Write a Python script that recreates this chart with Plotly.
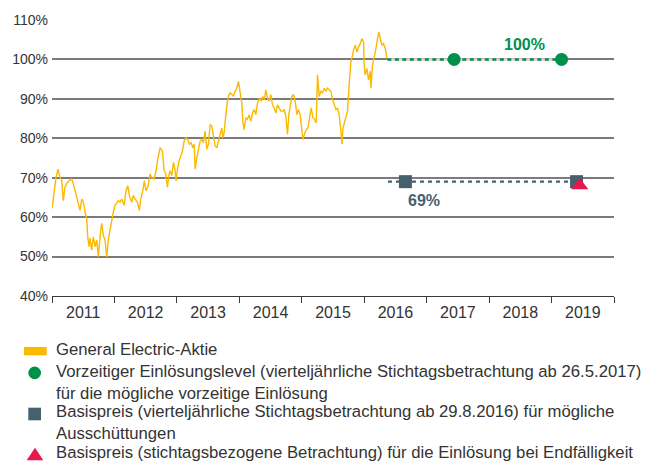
import plotly.graph_objects as go

# ---------------- data ----------------
# General Electric share price, in % of the strike-date level (decimal years)
ge_t = [2011.000, 2011.032, 2011.064, 2011.096, 2011.128, 2011.155, 2011.181, 2011.208, 2011.245, 2011.288,
        2011.316, 2011.341, 2011.369, 2011.396, 2011.421, 2011.449, 2011.476, 2011.502, 2011.529, 2011.556,
        2011.572, 2011.593, 2011.609, 2011.636, 2011.662, 2011.689, 2011.716, 2011.742, 2011.769, 2011.796,
        2011.822, 2011.849, 2011.877, 2011.902, 2011.929, 2011.957, 2011.982, 2012.010, 2012.037, 2012.063,
        2012.090, 2012.117, 2012.154, 2012.186, 2012.213, 2012.239, 2012.277, 2012.303, 2012.330, 2012.367,
        2012.399, 2012.421, 2012.454, 2012.479, 2012.506, 2012.534, 2012.571, 2012.598, 2012.635, 2012.667,
        2012.694, 2012.731, 2012.768, 2012.795, 2012.822, 2012.848, 2012.875, 2012.891, 2012.918, 2012.944,
        2012.971, 2012.987, 2013.008, 2013.035, 2013.063, 2013.088, 2013.115, 2013.147, 2013.175, 2013.200,
        2013.228, 2013.255, 2013.276, 2013.292, 2013.319, 2013.345, 2013.372, 2013.399, 2013.425, 2013.452,
        2013.479, 2013.505, 2013.532, 2013.559, 2013.585, 2013.612, 2013.639, 2013.665, 2013.692, 2013.720,
        2013.736, 2013.757, 2013.773, 2013.789, 2013.809, 2013.825, 2013.853, 2013.880, 2013.906, 2013.933,
        2013.960, 2013.986, 2014.013, 2014.040, 2014.056, 2014.077, 2014.104, 2014.130, 2014.157, 2014.184,
        2014.210, 2014.237, 2014.264, 2014.290, 2014.322, 2014.349, 2014.377, 2014.402, 2014.425, 2014.450,
        2014.478, 2014.505, 2014.531, 2014.558, 2014.585, 2014.611, 2014.638, 2014.665, 2014.697, 2014.718,
        2014.745, 2014.771, 2014.793, 2014.814, 2014.841, 2014.867, 2014.894, 2014.922, 2014.947, 2014.974,
        2015.002, 2015.018, 2015.043, 2015.071, 2015.098, 2015.124, 2015.151, 2015.178, 2015.204, 2015.231,
        2015.252, 2015.279, 2015.306, 2015.332, 2015.359, 2015.386, 2015.412, 2015.439, 2015.466, 2015.492,
        2015.519, 2015.547, 2015.572, 2015.599, 2015.627, 2015.643, 2015.659, 2015.684, 2015.712, 2015.733,
        2015.760, 2015.787, 2015.813, 2015.829, 2015.856, 2015.883, 2015.909, 2015.936, 2015.963, 2015.989,
        2016.000, 2016.016, 2016.043, 2016.069, 2016.096, 2016.107, 2016.133, 2016.160, 2016.188, 2016.213,
        2016.236, 2016.256, 2016.284, 2016.309, 2016.337, 2016.364]
ge_v = [62.2, 66.7, 70.1, 72.2, 70.0, 69.5, 64.2, 67.6, 68.8, 69.4,
        69.7, 68.5, 66.7, 65.0, 63.0, 61.7, 64.6, 63.8, 61.3, 59.6,
        55.0, 52.5, 54.7, 51.6, 55.0, 52.5, 54.2, 50.0, 55.0, 58.4,
        55.3, 54.2, 49.9, 54.2, 56.7, 59.6, 61.3, 63.0, 63.8, 64.2,
        63.8, 64.6, 63.0, 66.7, 68.0, 65.5, 63.8, 65.5, 64.6, 63.8,
        61.7, 64.6, 66.7, 69.2, 66.7, 67.6, 70.9, 70.0, 69.7, 71.8,
        74.7, 77.6, 76.8, 71.8, 71.0, 67.6, 70.9, 71.8, 70.5, 73.9,
        71.8, 69.2, 72.0, 74.3, 75.5, 76.7, 79.3, 80.1, 79.7, 78.5,
        78.9, 77.6, 78.5, 72.2, 75.1, 76.8, 79.3, 79.7, 78.9, 81.8,
        77.2, 78.5, 83.5, 83.1, 80.1, 78.1, 77.6, 79.3, 81.4, 82.6,
        80.1, 81.4, 84.3, 86.9, 89.4, 90.7, 91.5, 91.1, 90.7, 91.9,
        92.7, 94.4, 91.9, 88.9, 84.3, 82.2, 85.2, 84.8, 86.0, 84.3,
        86.4, 87.3, 86.0, 88.9, 90.2, 89.4, 90.6, 89.8, 92.3, 90.2,
        89.4, 91.1, 88.5, 87.7, 86.4, 88.5, 87.7, 86.9, 86.9, 87.3,
        85.6, 81.0, 86.0, 88.5, 90.6, 91.1, 89.4, 86.0, 87.3, 86.0,
        81.8, 79.7, 81.0, 82.2, 82.6, 84.8, 87.7, 85.2, 84.8, 83.9,
        96.1, 90.6, 91.9, 91.5, 92.7, 91.9, 92.7, 92.3, 91.9, 89.8,
        88.5, 87.3, 87.7, 86.0, 81.8, 78.5, 82.6, 84.3, 86.0, 86.9,
        94.0, 99.4, 101.1, 102.4, 103.6, 101.9, 103.2, 104.0, 105.3, 104.4,
        98.6, 96.1, 97.7, 94.8, 97.0, 92.7, 98.6, 100.3, 102.8, 105.3,
        107.0, 105.3, 103.6, 104.0, 102.8, 100.3]

# early redemption level (quarterly observation from 26.5.2017)
early_line_t = [2016.37, 2019.16]
early_line_v = [100, 100]
early_t = [2017.44, 2019.16]
early_v = [100, 100]
early_label = "100%"

# strike (quarterly observation from 29.8.2016) for possible payouts
strike_line_t = [2016.38, 2019.40]
strike_line_v = [69, 69]
strike_t = [2016.66, 2019.40]
strike_v = [69, 69]
strike_label = "69%"

# strike at maturity
final_t = [2019.45]
final_v = [68]

year_labels = ["2011", "2012", "2013", "2014", "2015", "2016", "2017", "2018", "2019"]
year_pos = [2011.5, 2012.5, 2013.5, 2014.5, 2015.5, 2016.5, 2017.5, 2018.5, 2019.5]

legend_texts = [
    "General Electric-Aktie",
    "Vorzeitiger Einlösungslevel (vierteljährliche Stichtagsbetrachtung ab 26.5.2017)<br>"
    "für die mögliche vorzeitige Einlösung",
    "Basispreis (vierteljährliche Stichtagsbetrachtung ab 29.8.2016) für mögliche<br>"
    "Ausschüttungen",
    "Basispreis (stichtagsbezogene Betrachtung) für die Einlösung bei Endfälligkeit",
]

# ---------------- style ----------------
YELLOW = "#FBB900"
GREEN = "#00904A"
SLATE = "#46606E"
RED = "#E8174C"
TEXT = "#333333"
GRID = "#7a7a7a"
FONT = "Liberation Sans, Arial, sans-serif"

W, H = 657, 465
L, R, T, B = 52, 43, 18, 169
PW, PH = W - L - R, H - T - B


def px(x):
    return (x - L) / PW


def py(y):
    return (H - B - y) / PH


fig = go.Figure()
fig.add_trace(go.Scatter(x=ge_t, y=ge_v, mode="lines",
                         line=dict(color=YELLOW, width=1.4), hoverinfo="skip"))
fig.add_trace(go.Scatter(x=early_line_t, y=early_line_v, mode="lines",
                         line=dict(color="#e8d0d6", width=2.5), hoverinfo="skip"))
fig.add_trace(go.Scatter(x=early_line_t, y=early_line_v, mode="lines",
                         line=dict(color=GREEN, width=2.6, dash="4px,3.5px"), hoverinfo="skip"))
fig.add_trace(go.Scatter(x=early_t, y=early_v, mode="markers",
                         marker=dict(symbol="circle", size=13, color=GREEN)))
fig.add_trace(go.Scatter(x=strike_line_t, y=strike_line_v, mode="lines",
                         line=dict(color=SLATE, width=2.2, dash="4px,4px"), hoverinfo="skip"))
fig.add_trace(go.Scatter(x=strike_t, y=strike_v, mode="markers",
                         marker=dict(symbol="square", size=13, color=SLATE)))
fig.add_trace(go.Scatter(x=final_t, y=final_v, mode="markers",
                         marker=dict(symbol="triangle-up", size=15, color=RED)))

annotations = [
    dict(x=2018.56, y=103.7, xref="x", yref="y", text="<b>" + early_label + "</b>", showarrow=False,
         font=dict(family=FONT, size=16, color=GREEN), xanchor="center", yanchor="middle"),
    dict(x=2016.95, y=64.2, xref="x", yref="y", text="<b>" + strike_label + "</b>", showarrow=False,
         font=dict(family=FONT, size=16, color=SLATE), xanchor="center", yanchor="middle"),
]
legend_y = [349.5, 382.9, 423.4, 453.5]
for txt, yy in zip(legend_texts, legend_y):
    annotations.append(dict(x=px(54), y=py(yy), xref="paper", yref="paper", text=txt,
                            showarrow=False, xanchor="left", yanchor="middle", align="left",
                            font=dict(family=FONT, size=16.7, color=TEXT)))

shapes = [
    dict(type="rect", xref="paper", yref="paper", x0=px(24), x1=px(46.7), y0=py(355.7), y1=py(347.3),
         fillcolor=YELLOW, line=dict(width=0)),
    dict(type="circle", xref="paper", yref="paper", x0=px(28.3), x1=px(41), y0=py(379.8), y1=py(367.1),
         fillcolor=GREEN, line=dict(width=0)),
    dict(type="rect", xref="paper", yref="paper", x0=px(28.3), x1=px(41), y0=py(421.2), y1=py(408.5),
         fillcolor=SLATE, line=dict(width=0)),
    dict(type="path", xref="paper", yref="paper",
         path=f"M {px(26.7)} {py(461.5)} L {px(43.3)} {py(461.5)} L {px(35)} {py(448.8)} Z",
         fillcolor=RED, line=dict(width=0)),
]

fig.update_layout(
    width=W, height=H,
    margin=dict(l=L, r=R, t=T, b=B, pad=0),
    paper_bgcolor="white", plot_bgcolor="white",
    showlegend=False,
    font=dict(family=FONT, color=TEXT),
    annotations=annotations,
    shapes=shapes,
    xaxis=dict(range=[2011, 2020], tickmode="array", tickvals=year_pos, ticktext=year_labels,
               ticks="", showgrid=False, zeroline=False, showline=True, linecolor="#3a3a3a",
               linewidth=1.3, tickfont=dict(family=FONT, size=16, color=TEXT), ticklabelstandoff=2,
               minor=dict(tickmode="linear", tick0=2011, dtick=1, ticks="outside", ticklen=6,
                          tickwidth=1.3, tickcolor="#3a3a3a", showgrid=False)),
    yaxis=dict(range=[40, 110], tickmode="linear", tick0=40, dtick=10, ticksuffix="%",
               showgrid=True, gridcolor=GRID, gridwidth=1.5, zeroline=False, showline=False,
               ticks="", tickfont=dict(family=FONT, size=14, color=TEXT), ticklabelstandoff=3),
)

fig.write_html("out.html")
